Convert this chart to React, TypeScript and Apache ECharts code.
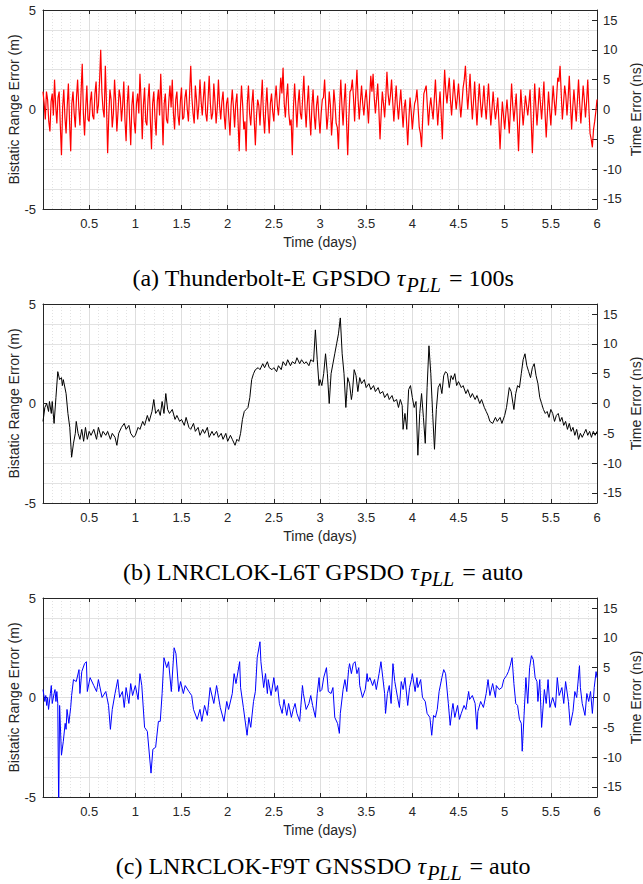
import React, { useEffect, useRef } from "react";
import * as echarts from "echarts";

// ---------- DATA ----------
const X_MIN = 0;
const X_MAX = 6;
const X_STEP = 0.5;
const M_MIN = -5;
const M_MAX = 5;
const NS_PER_M = 3.33564; // 1 m of range = 3.33564 ns
const NS_TICKS = [-15, -10, -5, 0, 5, 10, 15];

const CAPTIONS = [
  { label: "(a) Thunderbolt-E GPSDO ", tail: " = 100s" },
  { label: "(b) LNRCLOK-L6T GPSDO ", tail: " = auto" },
  { label: "(c) LNRCLOK-F9T GNSSDO ", tail: " = auto" },
];

// (a) Thunderbolt-E, samples every 0.025 day ...
const RED_DT = 0.025;
const thunderboltErr = [
  0.9, -0.5, 0.5, -1.1, 0.8, 1.5, -0.7, 0.9, -2.3, 1.0,
  -1.2, 1.3, -2.1, 0.9, -0.9, 1.5, -0.8, 2.3, -1.3, 1.2,
  -0.6, 0.9, -0.5, 1.4, 0.2, 3.0, 0.0, 2.2, -2.2, 1.0,
  -0.9, 1.5, -1.1, 1.0, -0.6, 1.4, -1.6, 1.2, -1.8, 0.9,
  -1.2, 0.8, 1.8, -1.5, 1.1, -0.8, 1.3, -2.0, 0.9, -1.3,
  1.0, 1.8, -1.8, 0.8, -0.7, 1.2, 1.5, -1.0, 0.9, -0.8,
  1.1, -0.4, 1.0, -0.6, 2.2, -0.2, 1.2, -0.5, 1.5, -0.3,
  1.4, -0.6, 1.7, -0.5, 1.3, -0.7, 1.5, -0.5, 0.9, -1.0,
  0.6, -1.3, 1.0, -0.9, 0.8, -2.1, 1.2, -1.0, -2.1, 1.2,
  -0.8, 1.0, -1.8, 0.5, -0.8, 1.5, -1.2, 1.1, -1.2, 0.8,
  -0.6, 1.2, -0.3, 1.6, 2.1, -0.4, 1.3, -0.8, -2.3, 1.3,
  -0.9, 1.0, -0.5, 1.7, -0.9, 1.2, -1.3, 1.0, -1.0, 0.7,
  -1.2, 0.5, 1.5, -1.0, 0.9, -1.3, 1.0, -0.7, -2.0, 1.5,
  -0.8, 1.3, -2.3, 0.9, 1.5, -0.6, 2.0, -0.5, 1.2, -0.3,
  1.0, -0.7, 1.7, 1.8, -0.2, 1.3, -1.5, 0.9, -0.4, 1.9,
  0.2, 1.5, -0.6, 1.2, -0.5, 1.0, -0.9, 0.5, -1.8, 0.6,
  -1.0, 0.3, 1.0, -0.9, -1.9, 0.8, 1.2, -0.8, 0.6, -0.5,
  1.5, -0.8, 0.9, -1.5, 2.0, 0.3, 1.6, -0.3, 1.5, 0.0,
  1.3, -0.4, 1.1, 2.2, 0.0, 1.8, -0.5, 1.4, -0.8, 1.3,
  -0.4, 1.2, -0.5, 1.3, -0.8, 0.9, -0.5, 0.6, -2.0, 0.4,
  -1.0, 0.5, -1.2, 1.3, -0.6, 0.8, -2.1, 1.0, -0.8, 0.7,
  -0.3, 1.0, -2.2, 1.3, -0.8, 1.1, -0.5, 1.4, -1.4, 0.9,
  -0.8, 1.2, -0.3, 1.6, 2.2, -0.5, 1.2, -0.3, 1.7, -1.0,
  1.0, -0.6, 1.5, -0.7, 1.2, -0.4, 1.5, -1.2, -1.9, -0.6,
  0.5,
];
// ... and the samples half-way between them
const thunderboltErrMid = [
  0.3, 0.9, -0.6, 0.4, -0.3, 0.2, 0.6, -0.8, 0.1, -0.4,
  0.2, -0.6, 0.3, -0.2, 0.6, 0.1, 0.9, -0.2, 0.1, -0.5,
  0.4, -0.3, 0.8, -0.2, 1.4, 0.9, -0.4, 0.3, -0.3, 0.5,
  -0.2, 0.4, -0.1, 0.6, 0.2, -0.5, 0.3, -0.4, 0.2, -0.6,
  0.3, -0.2, 0.4, 0.2, -0.6, 0.5, -0.5, 0.3, -0.4, 0.4,
  -0.3, 0.2, 0.3, -0.5, 0.4, 0.1, -0.2, 0.5, -0.3, 0.4,
  -0.5, 0.6, 0.0, 0.8, 0.6, -0.7, 0.5, 0.2, 0.4, 0.6,
  -0.2, 0.5, 0.3, -0.2, 0.4, 0.1, 0.2, 0.4, -0.3, 0.3,
  -0.4, 0.2, 0.1, 0.3, -0.6, 0.0, 0.2, -0.6, 0.3, -0.2,
  0.3, -0.5, -0.3, 0.2, 0.4, -0.3, 0.1, -0.2, 0.3, -0.1,
  0.5, 0.2, 0.6, 0.8, 0.3, 0.6, -0.2, -0.5, 0.1, 0.2,
  0.3, -0.2, 0.6, 0.1, 0.3, -0.3, 0.2, -0.3, 0.2, -0.4,
  -0.2, 0.6, 0.2, -0.3, 0.2, -0.4, 0.3, -0.9, 0.1, 0.2,
  0.4, -0.6, -0.4, 1.0, 0.6, 0.8, 0.5, 0.4, 0.3, 0.5,
  0.2, 0.6, 0.9, 0.6, 0.5, 0.0, -0.2, 0.3, 0.6, 0.8,
  0.7, 0.4, 0.3, 0.2, 0.3, 0.0, 0.1, -0.6, -0.5, -0.1,
  -0.3, 0.5, 0.1, -1.2, -0.4, 1.0, 0.2, 0.1, 0.0, 0.5,
  0.3, 0.1, -0.2, 0.5, 0.9, 1.0, 0.5, 0.6, 0.7, 0.6,
  0.4, 0.3, 1.5, 1.0, 0.8, 0.5, 0.4, 0.2, 0.3, 0.4,
  0.3, 0.2, 0.4, 0.2, 0.0, 0.1, 0.0, -0.6, -0.7, -0.3,
  -0.2, -0.3, 0.0, 0.2, 0.1, -0.6, -0.5, 0.1, -0.1, 0.2,
  0.3, -0.6, -0.4, 0.2, 0.1, 0.3, 0.4, -0.2, -0.2, 0.0,
  0.2, 0.4, 0.6, 1.4, 0.8, 0.3, 0.7, 0.6, 0.3, 0.1,
  0.2, 0.4, 0.3, 0.2, 0.5, 0.4, 0.0, -1.5, -1.0, -0.1,
];

// (b) LNRCLOK-L6T: [time (days), error (m)]
const l6tSamples: [number, number][] = [
  [0.00, -0.9], [0.02, -0.2], [0.04, 0.0], [0.06, -0.4], [0.07, 0.1], [0.09, -0.5], [0.10, 0.1], [0.12, -1.0],
  [0.14, 0.3], [0.16, 1.6], [0.18, 1.2], [0.20, 1.3], [0.21, 0.9], [0.22, 1.2], [0.25, 0.5], [0.27, -0.5],
  [0.29, -1.2], [0.31, -2.7], [0.33, -2.0], [0.35, -1.5], [0.36, -0.9], [0.38, -1.5], [0.40, -1.8], [0.42, -1.3],
  [0.44, -1.9], [0.46, -1.2], [0.48, -1.8], [0.50, -1.4], [0.52, -1.6], [0.55, -1.3], [0.58, -1.8], [0.60, -1.2],
  [0.63, -1.7], [0.65, -1.4], [0.68, -1.6], [0.70, -1.4], [0.73, -1.8], [0.75, -1.5], [0.78, -1.7], [0.80, -2.1],
  [0.82, -1.5], [0.85, -1.2], [0.88, -1.0], [0.90, -1.3], [0.93, -1.1], [0.95, -1.5], [0.98, -1.7], [1.00, -1.6],
  [1.03, -1.2], [1.05, -1.3], [1.08, -0.9], [1.10, -1.1], [1.13, -0.6], [1.15, -0.9], [1.18, -0.4], [1.20, 0.2],
  [1.22, -0.5], [1.25, -0.3], [1.27, -0.6], [1.29, 0.1], [1.31, -0.5], [1.33, 0.5], [1.35, -0.3], [1.37, -0.5],
  [1.40, -0.3], [1.43, -0.8], [1.45, -0.6], [1.48, -0.9], [1.50, -0.8], [1.53, -1.1], [1.55, -0.7], [1.58, -1.2],
  [1.60, -1.3], [1.63, -1.0], [1.65, -1.4], [1.68, -1.2], [1.70, -1.6], [1.73, -1.3], [1.75, -1.5], [1.78, -1.2],
  [1.80, -1.7], [1.83, -1.4], [1.85, -1.6], [1.88, -1.4], [1.90, -1.7], [1.93, -1.5], [1.95, -1.8], [1.98, -1.5],
  [2.00, -1.9], [2.03, -1.6], [2.05, -1.8], [2.08, -2.1], [2.10, -1.8], [2.12, -1.9], [2.14, -1.5], [2.16, -0.8],
  [2.18, -0.4], [2.20, -0.3], [2.22, -0.2], [2.24, 0.3], [2.26, 1.2], [2.28, 1.5], [2.30, 1.7], [2.33, 1.8],
  [2.35, 1.7], [2.38, 2.0], [2.40, 1.8], [2.43, 2.1], [2.45, 1.8], [2.48, 1.7], [2.50, 1.8], [2.53, 1.6],
  [2.55, 1.9], [2.58, 1.7], [2.60, 2.1], [2.63, 1.9], [2.65, 2.2], [2.68, 1.9], [2.70, 2.1], [2.73, 2.0],
  [2.75, 2.3], [2.78, 2.0], [2.80, 2.2], [2.83, 2.0], [2.85, 2.1], [2.88, 1.9], [2.90, 2.2], [2.93, 2.1],
  [2.95, 3.7], [2.97, 2.2], [2.99, 0.9], [3.00, 1.2], [3.02, 0.9], [3.04, 1.5], [3.06, 2.5], [3.08, 1.5],
  [3.10, 0.0], [3.12, 1.5], [3.14, 2.0], [3.16, 2.5], [3.18, 3.0], [3.20, 3.5], [3.22, 4.3], [3.24, 2.5],
  [3.26, 1.5], [3.28, -0.2], [3.30, 1.3], [3.32, 1.0], [3.34, 0.2], [3.35, 0.5], [3.37, 1.7], [3.39, 1.4],
  [3.41, 0.6], [3.43, 1.3], [3.45, 1.0], [3.48, 1.2], [3.50, 0.8], [3.53, 1.0], [3.55, 0.7], [3.58, 0.9],
  [3.60, 0.6], [3.63, 0.8], [3.65, 0.5], [3.68, 0.6], [3.70, 0.3], [3.73, 0.5], [3.75, 0.2], [3.78, 0.4],
  [3.80, 0.1], [3.83, 0.2], [3.85, -0.2], [3.87, 0.2], [3.89, -0.1], [3.90, -1.3], [3.92, -0.5], [3.94, -1.3],
  [3.96, 0.7], [3.98, 0.9], [4.00, 0.3], [4.02, -0.2], [4.04, 0.1], [4.06, -2.6], [4.08, -0.5], [4.10, 0.5],
  [4.12, -0.7], [4.14, -2.0], [4.16, 0.8], [4.18, 2.9], [4.20, 1.5], [4.22, -0.5], [4.24, -2.3], [4.26, -0.3],
  [4.28, 0.8], [4.30, 1.0], [4.32, 0.5], [4.34, 1.4], [4.36, 1.6], [4.38, 1.5], [4.40, 0.8], [4.42, 1.4],
  [4.44, 1.2], [4.46, 1.5], [4.48, 0.9], [4.50, 1.1], [4.53, 0.8], [4.55, 0.9], [4.58, 0.5], [4.60, 0.7],
  [4.63, 0.3], [4.65, 0.5], [4.68, 0.2], [4.70, 0.4], [4.73, 0.0], [4.75, 0.2], [4.78, -0.2], [4.80, -0.4],
  [4.82, -0.6], [4.84, -0.9], [4.87, -1.0], [4.90, -0.7], [4.92, -0.9], [4.95, -0.7], [4.97, -1.0], [5.00, -0.6],
  [5.02, -0.2], [5.05, 0.8], [5.07, 0.6], [5.09, 0.0], [5.10, -0.3], [5.12, 0.5], [5.14, 0.9], [5.16, 0.8],
  [5.18, 1.5], [5.20, 2.2], [5.22, 2.5], [5.24, 1.9], [5.26, 1.6], [5.28, 1.3], [5.30, 1.8], [5.32, 2.0],
  [5.34, 1.4], [5.36, 1.0], [5.38, 0.3], [5.40, 0.0], [5.42, -0.3], [5.44, -0.5], [5.46, -0.4], [5.48, -0.7],
  [5.50, -0.3], [5.52, -0.5], [5.54, -0.9], [5.56, -0.6], [5.58, -0.5], [5.60, -0.9], [5.62, -0.7], [5.64, -1.1],
  [5.66, -0.9], [5.68, -1.3], [5.70, -1.0], [5.72, -1.4], [5.74, -1.2], [5.76, -1.6], [5.78, -1.3], [5.80, -1.8],
  [5.82, -1.5], [5.84, -1.7], [5.86, -1.5], [5.88, -1.3], [5.90, -1.6], [5.92, -1.4], [5.94, -1.7], [5.96, -1.4],
  [5.98, -1.6], [6.00, -1.4],
];

// (c) LNRCLOK-F9T: [time (days), error (m)]
const f9tSamples: [number, number][] = [
  [0.00, 0.4], [0.02, -0.2], [0.03, 0.1], [0.04, -0.4], [0.05, 0.0], [0.06, -0.6], [0.08, 0.2], [0.09, 0.6],
  [0.10, -0.3], [0.12, 0.2], [0.13, 0.4], [0.14, -0.2], [0.15, 0.3], [0.16, -0.3], [0.17, -5.6], [0.18, -0.4],
  [0.20, -2.9], [0.22, -2.2], [0.24, -1.3], [0.25, -1.6], [0.26, -0.6], [0.28, -1.3], [0.30, -0.5], [0.31, 0.1],
  [0.33, 0.9], [0.36, 0.8], [0.39, 1.4], [0.40, 0.2], [0.42, 1.3], [0.45, 1.7], [0.47, 1.8], [0.48, 0.3],
  [0.51, 1.0], [0.55, 0.6], [0.58, 0.3], [0.60, 0.9], [0.64, 0.0], [0.68, 0.3], [0.71, -0.4], [0.73, -1.6],
  [0.75, -0.6], [0.78, 0.2], [0.81, 0.9], [0.83, 0.0], [0.86, 0.3], [0.88, -0.5], [0.90, 0.5], [0.93, -0.3],
  [0.95, 0.7], [0.97, 0.1], [1.00, 0.6], [1.03, -0.1], [1.05, 1.2], [1.07, 0.6], [1.10, -1.5], [1.13, -1.7],
  [1.17, -3.8], [1.19, -2.6], [1.22, -2.5], [1.25, -1.2], [1.27, -1.2], [1.29, 0.2], [1.31, 2.0], [1.34, 1.5],
  [1.36, 1.8], [1.39, 0.3], [1.42, 2.5], [1.44, 2.2], [1.47, 0.3], [1.49, 0.8], [1.52, 0.2], [1.54, 0.6],
  [1.58, 0.3], [1.61, 0.1], [1.63, -0.6], [1.67, -1.1], [1.70, -0.6], [1.72, -1.2], [1.75, -0.4], [1.78, -0.9],
  [1.81, 0.5], [1.85, -0.3], [1.88, 0.6], [1.92, -0.5], [1.96, -1.2], [1.99, -0.2], [2.01, -0.6], [2.05, 0.2],
  [2.07, 1.2], [2.09, 0.7], [2.13, 1.8], [2.14, 0.5], [2.17, -0.5], [2.21, -1.9], [2.23, -1.0], [2.25, -1.5],
  [2.28, -0.2], [2.30, 0.3], [2.32, 2.0], [2.35, 2.8], [2.36, 1.8], [2.39, 0.5], [2.41, 1.2], [2.43, 0.2],
  [2.44, 0.9], [2.47, 0.1], [2.50, 1.0], [2.52, 0.3], [2.54, 0.6], [2.56, -0.3], [2.59, -0.8], [2.61, -0.1],
  [2.64, -0.9], [2.66, -0.3], [2.69, -1.0], [2.71, -0.6], [2.73, -0.3], [2.75, -0.8], [2.78, -1.2], [2.81, 0.6],
  [2.82, 0.2], [2.85, -0.6], [2.88, -0.3], [2.90, 0.1], [2.92, -0.4], [2.95, -1.0], [2.97, 0.2], [2.99, 1.0],
  [3.00, 0.3], [3.02, 0.4], [3.04, 1.0], [3.07, 1.5], [3.09, 0.3], [3.12, 0.2], [3.14, 0.5], [3.16, -1.0],
  [3.19, -1.3], [3.21, -1.8], [3.22, -0.8], [3.25, 0.4], [3.27, 0.9], [3.29, 0.3], [3.31, 1.4], [3.32, 1.7],
  [3.34, 1.2], [3.36, 1.7], [3.38, 1.8], [3.40, 1.2], [3.42, 1.5], [3.43, 0.6], [3.46, 0.0], [3.49, 0.4],
  [3.51, 1.2], [3.52, 0.8], [3.54, 1.0], [3.57, 0.6], [3.59, 0.9], [3.61, 0.4], [3.64, 1.2], [3.66, 1.8],
  [3.68, 1.0], [3.70, 0.2], [3.71, -0.8], [3.73, 0.2], [3.75, 0.6], [3.77, -0.3], [3.79, 1.7], [3.81, 0.8],
  [3.84, 0.0], [3.86, -0.5], [3.88, 0.8], [3.90, 0.4], [3.92, 1.0], [3.95, -0.4], [3.97, 0.5], [3.99, 0.9],
  [4.00, 1.2], [4.03, 0.3], [4.05, 1.0], [4.06, 0.5], [4.09, 0.9], [4.11, 0.0], [4.14, -0.2], [4.16, -0.8],
  [4.19, -1.0], [4.21, -1.9], [4.23, -0.9], [4.25, -1.0], [4.27, -0.6], [4.29, 0.3], [4.32, 1.0], [4.34, 1.4],
  [4.36, 1.2], [4.39, -0.3], [4.41, -1.4], [4.43, -0.6], [4.44, -0.3], [4.46, -1.0], [4.49, -0.4], [4.51, -1.1],
  [4.53, -0.8], [4.56, -0.4], [4.58, -0.6], [4.61, 0.3], [4.62, -0.1], [4.65, 0.1], [4.68, -0.3], [4.70, -1.6],
  [4.71, -0.7], [4.74, -0.2], [4.77, -0.5], [4.80, 0.2], [4.82, 0.9], [4.84, 0.1], [4.87, 0.7], [4.90, 0.0],
  [4.91, 0.6], [4.94, 0.4], [4.97, 0.5], [4.99, 0.9], [5.02, 1.1], [5.04, 1.3], [5.06, 1.6], [5.08, 2.0],
  [5.10, 0.7], [5.12, -0.3], [5.14, -0.4], [5.16, -1.1], [5.18, -1.3], [5.19, -2.7], [5.21, -0.9], [5.23, 1.0],
  [5.25, -0.3], [5.27, 1.5], [5.29, 2.1], [5.31, 1.9], [5.33, 1.0], [5.35, 0.8], [5.36, -0.2], [5.38, 0.9],
  [5.40, -1.5], [5.43, 0.4], [5.45, -0.3], [5.47, 0.9], [5.49, -0.5], [5.52, 0.0], [5.55, -0.5], [5.57, 1.0],
  [5.59, 0.1], [5.62, 0.5], [5.64, -0.3], [5.66, 0.8], [5.69, -0.2], [5.71, -1.4], [5.74, -0.7], [5.76, 0.3],
  [5.78, 0.0], [5.81, 1.6], [5.82, 0.5], [5.84, -0.3], [5.87, -0.9], [5.89, 0.2], [5.91, -0.2], [5.93, 0.3],
  [5.95, -0.8], [5.97, 0.5], [5.99, 1.3], [6.00, 1.0],
];

const SERIES_COLORS = ["#ff0000", "#000000", "#0000ff"];

// ---------- LAYOUT / STYLE ----------
const W = 643;
const H = 884;
const GRID_TOPS = [10, 304, 598];
const GRID_H = 199;
const GRID_LEFT = 43;
const GRID_RIGHT = 46;
const CAPTION_Y = [278, 572, 866];
const SANS = "'Liberation Sans', Arial, Helvetica, sans-serif";
const SERIF = "'Liberation Serif', 'Times New Roman', Times, serif";
const INK = "#262626";

function redSeriesData() {
  const out: [number, number][] = [];
  thunderboltErr.forEach((v, i) => {
    out.push([i * RED_DT, v]);
    if (i < thunderboltErrMid.length) out.push([(i + 0.5) * RED_DT, thunderboltErrMid[i]]);
  });
  return out;
}

export default function App() {
  const ref = useRef<HTMLDivElement>(null);

  useEffect(() => {
    if (!ref.current) return;
    const chart = echarts.init(ref.current, undefined, { renderer: "svg" });

    const datasets = [redSeriesData(), l6tSamples, f9tSamples];

    const grid: any[] = [];
    const xAxis: any[] = [];
    const yAxis: any[] = [];
    const series: any[] = [];

    GRID_TOPS.forEach((top, i) => {
      grid.push({
        left: GRID_LEFT,
        right: GRID_RIGHT,
        top,
        height: GRID_H,
        containLabel: false,
        outerBoundsMode: "none",
      });
      xAxis.push({
        gridIndex: i,
        type: "value",
        position: "bottom",
        min: X_MIN,
        max: X_MAX,
        interval: X_STEP,
        axisLine: { show: true, onZero: false, lineStyle: { color: INK, width: 1 } },
        axisTick: { show: true, inside: true, length: 4, lineStyle: { color: INK } },
        axisLabel: {
          color: INK,
          fontSize: 13,
          fontFamily: SANS,
          margin: 8,
          formatter: (v: number) => (v === 0 ? "" : String(v)),
        },
        splitLine: { show: true, lineStyle: { color: "#dedede", width: 1 } },
        minorTick: { show: false, splitNumber: 5 },
        minorSplitLine: { show: true, lineStyle: { color: "#e2e2e2", width: 1, type: [1, 2] } },
        name: "Time (days)",
        nameLocation: "middle",
        nameGap: 26,
        nameMoveOverlap: false,
        nameTextStyle: { color: INK, fontSize: 14, fontFamily: SANS },
      });
      xAxis.push({
        gridIndex: i,
        type: "value",
        position: "top",
        min: X_MIN,
        max: X_MAX,
        interval: X_STEP,
        axisLine: { show: true, onZero: false, lineStyle: { color: INK, width: 1 } },
        axisTick: { show: true, inside: true, length: 4, lineStyle: { color: INK } },
        axisLabel: { show: false },
        splitLine: { show: false },
      });
      yAxis.push({
        gridIndex: i,
        type: "value",
        position: "left",
        min: M_MIN,
        max: M_MAX,
        interval: 5,
        axisLine: { show: true, onZero: false, lineStyle: { color: INK, width: 1 } },
        axisTick: { show: true, inside: true, length: 4, lineStyle: { color: INK } },
        axisLabel: { color: INK, fontSize: 13, fontFamily: SANS, margin: 7 },
        splitLine: { show: true, lineStyle: { color: "#dedede", width: 1 } },
        minorTick: { show: false, splitNumber: 5 },
        minorSplitLine: { show: true, lineStyle: { color: "#e2e2e2", width: 1 } },
        name: "Bistatic Range Error (m)",
        nameLocation: "middle",
        nameGap: 22,
        nameMoveOverlap: false,
        nameTextStyle: { color: INK, fontSize: 14, fontFamily: SANS },
      });
      yAxis.push({
        gridIndex: i,
        type: "value",
        position: "right",
        min: M_MIN * NS_PER_M,
        max: M_MAX * NS_PER_M,
        axisLine: { show: true, onZero: false, lineStyle: { color: INK, width: 1 } },
        axisTick: { show: true, inside: true, length: 5, customValues: NS_TICKS, lineStyle: { color: INK } },
        axisLabel: { color: INK, fontSize: 13, fontFamily: SANS, margin: 6, customValues: NS_TICKS },
        splitLine: { show: false },
        name: "Time Error (ns)",
        nameLocation: "middle",
        nameRotate: 90,
        nameGap: 32,
        nameMoveOverlap: false,
        nameTextStyle: { color: INK, fontSize: 14, fontFamily: SANS },
      });
      series.push({
        type: "line",
        xAxisIndex: i * 2,
        yAxisIndex: i * 2,
        data: datasets[i],
        symbol: "none",
        showSymbol: false,
        clip: true,
        silent: true,
        lineStyle: { color: SERIES_COLORS[i], width: i === 0 ? 1.2 : 1 },
      });
    });

    const graphic = CAPTIONS.map((c, i) => ({
      type: "text",
      x: 323,
      y: CAPTION_Y[i],
      style: {
        text: `{n|${c.label}}{t|τ}{s|PLL}{n|${c.tail}}`,
        align: "center",
        verticalAlign: "middle",
        rich: {
          n: { fontFamily: SERIF, fontSize: 24, lineHeight: 33, color: "#000", verticalAlign: "middle" },
          t: { fontFamily: SERIF, fontSize: 24, fontStyle: "italic", lineHeight: 33, color: "#000", verticalAlign: "middle" },
          s: { fontFamily: SERIF, fontSize: 20, fontStyle: "italic", lineHeight: 20, color: "#000", verticalAlign: "bottom", padding: [0, 2, 0, 1] },
        },
      },
    }));

    chart.setOption({
      animation: false,
      backgroundColor: "#ffffff",
      grid,
      xAxis,
      yAxis,
      series,
      graphic,
    });

    return () => chart.dispose();
  }, []);

  return (
    <div
      ref={ref}
      style={{ position: "absolute", left: 0, top: 0, width: W, height: H }}
    />
  );
}
